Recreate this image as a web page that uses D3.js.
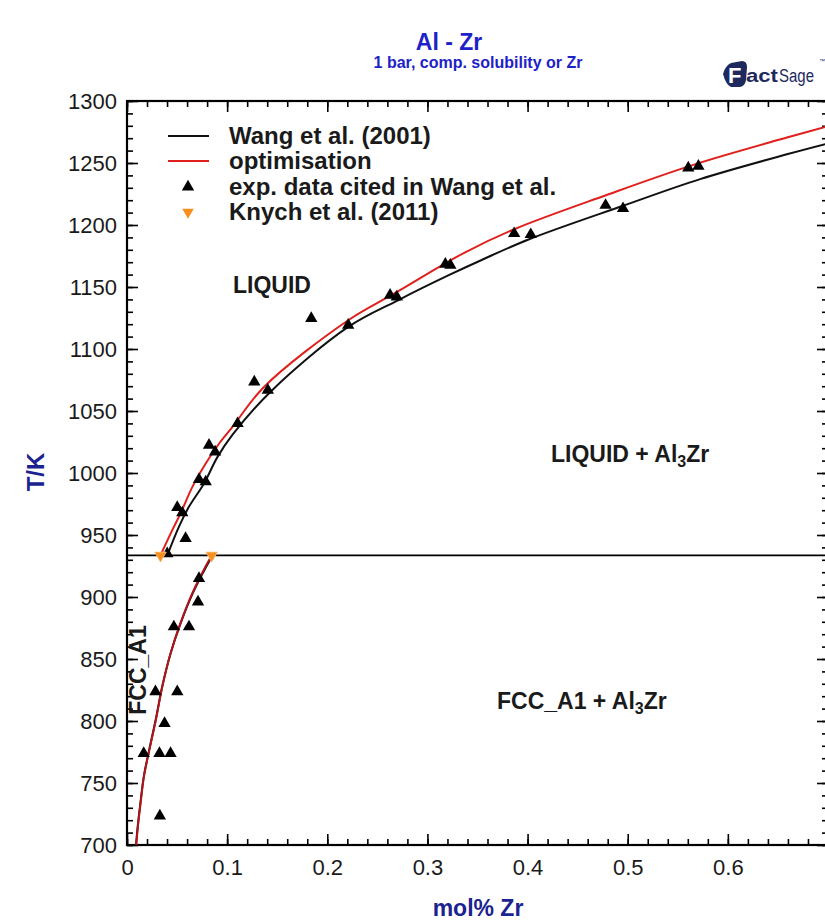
<!DOCTYPE html>
<html>
<head>
<meta charset="utf-8">
<script src="https://cdn.jsdelivr.net/npm/d3@7"></script>
<style>
  body { margin: 0; background: #fff; }
  svg { display: block; }
  text { font-family: "Liberation Sans", Arial, sans-serif; }
</style>
</head>
<body>
<svg id="chart" width="825" height="923"></svg>
<script>
// Al-Zr, Al-rich corner: liquidus and FCC solvus (T in K, composition in mol% Zr)
const eutecticT = 933.5;

const wangLiquidus = [
  [0.0402, 933.5], [0.0518, 956.6], [0.0618, 972.7], [0.0769, 991.6], [0.0904, 1013],
  [0.1054, 1031], [0.1439, 1066], [0.2209, 1117.8], [0.2711, 1139.5], [0.3213, 1159.5],
  [0.3547, 1172], [0.4016, 1188.5], [0.4953, 1215.5], [0.5723, 1237], [0.6589, 1257],
  [0.7011, 1266]
];
const optLiquidus = [
  [0.0334, 933.5], [0.0452, 953.9], [0.0535, 967.4], [0.0653, 988.8], [0.0786, 1007.7],
  [0.092, 1023.8], [0.1054, 1037.2], [0.1368, 1069.4], [0.2209, 1123.2], [0.2674, 1145],
  [0.3377, 1178], [0.3879, 1197], [0.4782, 1224], [0.5655, 1248.5], [0.6589, 1270.5],
  [0.7011, 1280]
];
const wangSolvus = [
  [0.009, 700], [0.0107, 715], [0.0134, 734], [0.0167, 755], [0.0217, 775], [0.0284, 800],
  [0.0355, 829], [0.0435, 854.5], [0.0535, 878.7], [0.0656, 902.9], [0.0795, 925], [0.0856, 933.5]
];
const optSolvus = [
  [0.0092, 700], [0.0109, 715], [0.0136, 734], [0.0169, 755], [0.0219, 775], [0.0286, 800],
  [0.0356, 829], [0.0435, 854.5], [0.0533, 878.7], [0.0651, 902.9], [0.0787, 925], [0.0846, 933.5]
];
// experimental points cited in Wang et al.
const expX = [0.0819, 0.088, 0.0719, 0.0786, 0.0502, 0.0552, 0.0585, 0.0402,
              0.0719, 0.0709, 0.0468, 0.0619, 0.0284, 0.0502, 0.0375, 0.0167, 0.0324, 0.0435, 0.0328,
              0.1104, 0.1271, 0.1406, 0.184, 0.2209, 0.2627, 0.2694, 0.3179, 0.3229,
              0.3866, 0.4032, 0.4779, 0.4953, 0.5605, 0.5706];
const expT = [1022.4, 1017, 994.8, 992.9, 972.2, 967.9, 947.2, 935,
              915, 896.1, 876, 876, 823.6, 823.6, 798.1, 773.9, 773.9, 773.9, 723.4,
              1039.9, 1073.5, 1066.8, 1124.6, 1119.2, 1143.4, 1142, 1168.4, 1167.6,
              1193.1, 1192.3, 1215.9, 1213.3, 1246, 1247.4];
// Knych et al. (2011)
const knychX = [0.0334, 0.0846];
const knychT = [933.5, 933.5];

const xMajor = [0, 0.1, 0.2, 0.3, 0.4, 0.5, 0.6, 0.7];
const xMajorLabels = ["0", "0.1", "0.2", "0.3", "0.4", "0.5", "0.6", ""];
const yMajor = [700, 750, 800, 850, 900, 950, 1000, 1050, 1100, 1150, 1200, 1250, 1300];

const svg = d3.select("#chart");
const L = 127, R = 828, T = 101, B = 845;
const x = d3.scaleLinear().domain([0, 0.7]).range([L, R]);
const y = d3.scaleLinear().domain([700, 1300]).range([B, T]);

const ink = "#000";
const navy = "#1b2390";
const blue = "#1d22c8";

// titles
svg.append("text").attr("x", 449).attr("y", 50).attr("text-anchor", "middle")
  .attr("font-size", 23).attr("font-weight", "bold").attr("fill", blue).text("Al - Zr");
svg.append("text").attr("x", 478).attr("y", 68).attr("text-anchor", "middle")
  .attr("font-size", 16).attr("font-weight", "bold").attr("fill", blue)
  .text("1 bar, comp. solubility or Zr");

// FactSage logo
const logo = svg.append("g").attr("transform", "translate(722,60)");
logo.append("path")
  .attr("d", "M1,14 Q3,6 9,3 L20,1 Q25,1 25,7 L24,20 Q23,26 18,27 L9,27 Q4,25 1,14 Z")
  .attr("fill", "#1e2a5e");
logo.append("text").attr("x", 6).attr("y", 23).attr("font-size", 22).attr("font-weight", "bold")
  .attr("fill", "#fff").attr("font-family", "Liberation Serif, serif").text("F");
logo.append("text").attr("x", 24).attr("y", 22).attr("font-size", 19).attr("font-weight", "bold")
  .attr("fill", "#1e2a5e").attr("font-family", "Liberation Serif, serif")
  .attr("textLength", 32).attr("lengthAdjust", "spacingAndGlyphs").text("act");
logo.append("text").attr("x", 57).attr("y", 22).attr("font-size", 18)
  .attr("fill", "#1e2a5e").attr("font-family", "Liberation Serif, serif")
  .attr("textLength", 35).attr("lengthAdjust", "spacingAndGlyphs").text("Sage");
logo.append("text").attr("x", 97).attr("y", 3).attr("font-size", 6)
  .attr("fill", "#1e2a5e").text("™");

// clip to the plot frame
svg.append("clipPath").attr("id", "plotClip").append("rect")
  .attr("x", L).attr("y", T).attr("width", R - L).attr("height", B - T);

// axes with inward ticks
function styleAxis(g) {
  g.select(".domain").remove();
  g.selectAll("line").attr("stroke", ink).attr("stroke-width", 1.6);
  g.selectAll("text").attr("fill", "#1a1a1a").attr("font-size", 22)
    .attr("font-family", "\"Liberation Sans\", Arial, sans-serif");
}
const xMinor = d3.range(0, 0.7001, 0.02);
const yMinor = d3.range(700, 1300.1, 10);

svg.append("g").attr("transform", `translate(0,${B})`)
  .call(d3.axisBottom(x).tickValues(xMinor).tickSize(-6).tickFormat(""))
  .call(styleAxis);
svg.append("g").attr("transform", `translate(0,${B})`)
  .call(d3.axisBottom(x).tickValues(xMajor).tickSize(-11).tickPadding(14)
    .tickFormat((d, i) => xMajorLabels[i]))
  .call(styleAxis);
svg.append("g").attr("transform", `translate(0,${T})`)
  .call(d3.axisTop(x).tickValues(xMinor).tickSize(-6).tickFormat(""))
  .call(styleAxis);
svg.append("g").attr("transform", `translate(0,${T})`)
  .call(d3.axisTop(x).tickValues(xMajor).tickSize(-11).tickFormat(""))
  .call(styleAxis);
svg.append("g").attr("transform", `translate(${L},0)`)
  .call(d3.axisLeft(y).tickValues(yMinor).tickSize(-6).tickFormat(""))
  .call(styleAxis);
svg.append("g").attr("transform", `translate(${L},0)`)
  .call(d3.axisLeft(y).tickValues(yMajor).tickSize(-11).tickPadding(10).tickFormat(d3.format("d")))
  .call(styleAxis);
svg.append("g").attr("transform", `translate(${R},0)`)
  .call(d3.axisRight(y).tickValues(yMinor).tickSize(-6).tickFormat(""))
  .call(styleAxis);
svg.append("g").attr("transform", `translate(${R},0)`)
  .call(d3.axisRight(y).tickValues(yMajor).tickSize(-11).tickFormat(""))
  .call(styleAxis);

// frame
svg.append("rect").attr("x", L).attr("y", T).attr("width", R - L).attr("height", B - T)
  .attr("fill", "none").attr("stroke", ink).attr("stroke-width", 2.2);

// axis titles
svg.append("text").attr("x", 478).attr("y", 916).attr("text-anchor", "middle")
  .attr("font-size", 23).attr("font-weight", "bold").attr("fill", navy).text("mol% Zr");
svg.append("text").attr("transform", "translate(44,472) rotate(-90)").attr("text-anchor", "middle")
  .attr("font-size", 24).attr("font-weight", "bold").attr("fill", navy).text("T/K");

// phase boundaries
const plot = svg.append("g").attr("clip-path", "url(#plotClip)");
const line = d3.line().x(d => x(d[0])).y(d => y(d[1])).curve(d3.curveCatmullRom.alpha(0.5));

plot.append("line").attr("x1", x(0)).attr("x2", x(0.7)).attr("y1", y(eutecticT)).attr("y2", y(eutecticT))
  .attr("stroke", ink).attr("stroke-width", 1.8);

plot.append("path").datum(wangLiquidus).attr("d", line)
  .attr("fill", "none").attr("stroke", "#111").attr("stroke-width", 2);
plot.append("path").datum(wangSolvus).attr("d", line)
  .attr("fill", "none").attr("stroke", "#111").attr("stroke-width", 2);
plot.append("path").datum(optLiquidus).attr("d", line)
  .attr("fill", "none").attr("stroke", "#e0201c").attr("stroke-width", 2);
plot.append("path").datum(optSolvus).attr("d", line)
  .attr("fill", "none").attr("stroke", "#b3151a").attr("stroke-width", 2);

// data markers
const tri = d3.symbol().type(d3.symbolTriangle).size(66);
plot.selectAll("path.exp").data(d3.range(expX.length)).join("path")
  .attr("class", "exp")
  .attr("transform", i => `translate(${x(expX[i])},${y(expT[i])})`)
  .attr("d", tri).attr("fill", "#000");

const triK = d3.symbol().type(d3.symbolTriangle).size(58);
plot.selectAll("path.knych").data(d3.range(knychX.length)).join("path")
  .attr("class", "knych")
  .attr("transform", i => `translate(${x(knychX[i])},${y(knychT[i])}) rotate(180)`)
  .attr("d", triK).attr("fill", "#f7901e").attr("stroke", "#fbc48a").attr("stroke-width", 0.8);

// phase-field labels
const lab = svg.append("g").attr("font-weight", "bold").attr("fill", "#1a1a1a").attr("font-size", 23);
lab.append("text").attr("x", 233).attr("y", 293).text("LIQUID");
const l2 = lab.append("text").attr("x", 551).attr("y", 462);
l2.append("tspan").text("LIQUID + Al");
l2.append("tspan").attr("font-size", 16).attr("dy", 5).text("3");
l2.append("tspan").attr("dy", -5).text("Zr");
const l3 = lab.append("text").attr("x", 497).attr("y", 709);
l3.append("tspan").text("FCC_A1 + Al");
l3.append("tspan").attr("font-size", 16).attr("dy", 5).text("3");
l3.append("tspan").attr("dy", -5).text("Zr");
lab.append("text").attr("transform", "translate(146,670) rotate(-90)").attr("text-anchor", "middle")
  .text("FCC_A1");

// legend
const leg = svg.append("g").attr("font-size", 24).attr("font-weight", "bold").attr("fill", "#1a1a1a");
const legRows = [
  { label: "Wang et al. (2001)", kind: "line", color: "#111", yy: 136 },
  { label: "optimisation", kind: "line", color: "#e0201c", yy: 161 },
  { label: "exp. data cited in Wang et al.", kind: "up", color: "#000", yy: 187 },
  { label: "Knych et al. (2011)", kind: "down", color: "#f7901e", yy: 212 }
];
legRows.forEach(r => {
  if (r.kind === "line") {
    leg.append("line").attr("x1", 168).attr("x2", 209).attr("y1", r.yy).attr("y2", r.yy)
      .attr("stroke", r.color).attr("stroke-width", 2);
  } else {
    leg.append("path").attr("d", r.kind === "up" ? tri : triK)
      .attr("transform", `translate(188,${r.yy})${r.kind === "down" ? " rotate(180)" : ""}`)
      .attr("fill", r.color);
  }
  leg.append("text").attr("x", 229).attr("y", r.yy + 8).text(r.label);
});
</script>
</body>
</html>
